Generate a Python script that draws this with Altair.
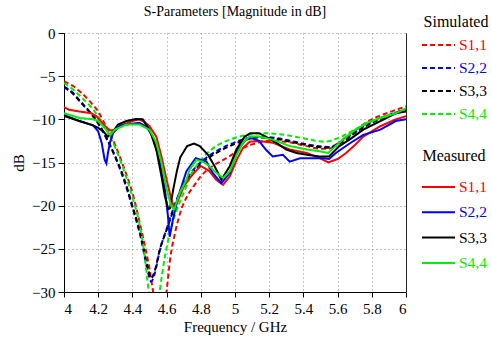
import altair as alt
import pandas as pd

# ---- S-parameter traces (frequency in GHz, magnitude in dB) ----
sim_s11_f = [4.0, 4.05, 4.1, 4.15, 4.2, 4.25, 4.3, 4.35, 4.4, 4.45, 4.5, 4.53, 4.56, 4.59, 4.6, 4.62, 4.65, 4.68,
             4.72, 4.76, 4.8, 4.87, 4.95, 5.03, 5.1, 5.2, 5.3, 5.4, 5.5, 5.55, 5.6, 5.65, 5.7, 5.75, 5.8, 5.9, 6.0]
sim_s11_db = [-5.6, -6.1, -6.9, -7.9, -9.1, -11.0, -13.0, -15.6, -18.5, -22.6, -27.3, -31.0, -33.5, -31.5, -29.9,
              -26.3, -23.1, -20.8, -18.9, -17.7, -16.6, -15.4, -14.5, -13.5, -12.9, -12.5, -12.6, -13.0, -13.4,
              -13.4, -12.8, -12.0, -11.3, -10.6, -10.0, -9.2, -8.5]

sim_s22_f = [4.0, 4.05, 4.1, 4.15, 4.2, 4.25, 4.3, 4.35, 4.4, 4.45, 4.49, 4.51, 4.53, 4.56, 4.6, 4.64, 4.68,
             4.735, 4.81, 4.89, 4.97, 5.07, 5.15, 5.25, 5.35, 5.45, 5.55, 5.62, 5.7, 5.8, 5.9, 6.0]
sim_s22_db = [-6.3, -7.0, -8.1, -9.2, -10.5, -12.3, -14.4, -17.0, -20.2, -23.8, -27.6, -28.8, -27.9, -25.2, -22.7,
              -20.3, -18.3, -16.4, -14.8, -13.7, -12.9, -12.2, -12.0, -12.2, -12.6, -13.0, -13.2, -12.6, -11.5,
              -10.3, -9.5, -8.8]

sim_s33_f = [4.0, 4.05, 4.1, 4.15, 4.2, 4.25, 4.3, 4.35, 4.4, 4.45, 4.49, 4.51, 4.53, 4.56, 4.6, 4.64, 4.68,
             4.735, 4.81, 4.89, 4.97, 5.07, 5.15, 5.25, 5.35, 5.45, 5.55, 5.62, 5.7, 5.8, 5.9, 6.0]
sim_s33_db = [-6.2, -6.9, -8.0, -9.1, -10.4, -12.2, -14.3, -16.8, -20.0, -23.5, -27.2, -28.4, -27.6, -25.1, -22.8,
              -20.5, -18.5, -16.6, -15.0, -13.9, -13.1, -12.35, -12.1, -12.3, -12.7, -13.1, -13.3, -12.7, -11.6,
              -10.4, -9.6, -8.9]

sim_s44_f = [4.0, 4.05, 4.1, 4.15, 4.2, 4.25, 4.3, 4.35, 4.4, 4.44, 4.47, 4.49, 4.51, 4.53, 4.55, 4.56, 4.59,
             4.62, 4.66, 4.7, 4.75, 4.81, 4.89, 4.97, 5.07, 5.15, 5.25, 5.35, 5.45, 5.52, 5.6, 5.7, 5.8, 5.9, 6.0]
sim_s44_db = [-5.8, -6.5, -7.4, -8.4, -9.65, -11.3, -13.3, -15.9, -19.0, -22.0, -25.5, -29.0, -32.0, -33.0,
              -31.5, -29.9, -25.9, -23.1, -20.5, -18.5, -16.2, -14.5, -13.1, -12.35, -11.8, -11.6, -11.7, -12.0,
              -12.4, -12.6, -12.2, -11.2, -10.2, -9.5, -8.9]

meas_s11_f = [4.0, 4.03, 4.09, 4.16, 4.19, 4.23, 4.27, 4.3, 4.35, 4.4, 4.44, 4.47, 4.5, 4.54, 4.57, 4.6, 4.628,
              4.647, 4.677, 4.7, 4.735, 4.77, 4.8, 4.85, 4.89, 4.93, 4.97, 5.01, 5.047, 5.086, 5.14, 5.22, 5.32,
              5.42, 5.495, 5.545, 5.6, 5.65, 5.7, 5.75, 5.85, 5.94, 6.0]
meas_s11_db = [-8.6, -8.9, -9.1, -9.3, -9.65, -10.6, -11.3, -11.2, -10.6, -10.2, -10.0, -10.3, -10.8, -12.0,
               -14.3, -17.0, -19.3, -20.4, -18.9, -17.8, -16.8, -16.0, -15.4, -16.0, -17.0, -17.6, -16.6, -14.7,
               -13.3, -12.6, -12.5, -12.7, -13.5, -13.9, -14.5, -15.0, -14.6, -13.9, -13.0, -12.0, -10.8, -10.0,
               -9.65]

meas_s22_f = [4.0, 4.09, 4.17, 4.2, 4.22, 4.238, 4.248, 4.257, 4.27, 4.287, 4.326, 4.4, 4.44, 4.48, 4.52, 4.56,
              4.59, 4.608, 4.618, 4.637, 4.667, 4.716, 4.77, 4.833, 4.87, 4.92, 4.97, 5.017, 5.067, 5.1, 5.14,
              5.18, 5.22, 5.28, 5.32, 5.38, 5.456, 5.515, 5.55, 5.59, 5.67, 5.75, 5.85, 5.94, 6.0]
meas_s22_db = [-9.5, -10.2, -10.7, -11.4, -12.7, -14.7, -15.1, -13.9, -12.6, -11.6, -10.7, -10.5, -10.4, -10.8,
               -12.0, -15.0, -18.1, -21.2, -23.6, -21.6, -19.0, -16.0, -14.5, -14.9, -16.2, -17.4, -16.2, -13.5,
               -12.3, -12.2, -12.5, -13.5, -14.3, -14.1, -14.9, -14.5, -14.5, -14.5, -14.6, -13.9, -12.8, -11.8,
               -11.2, -10.2, -10.0]

meas_s33_f = [4.0, 4.09, 4.17, 4.2, 4.23, 4.257, 4.287, 4.316, 4.365, 4.42, 4.46, 4.5, 4.54, 4.57, 4.59, 4.61,
              4.62, 4.64, 4.66, 4.68, 4.72, 4.76, 4.794, 4.842, 4.88, 4.92, 4.97, 5.008, 5.057, 5.09, 5.14, 5.18,
              5.24, 5.3, 5.36, 5.42, 5.495, 5.55, 5.61, 5.68, 5.75, 5.85, 5.94, 6.0]
meas_s33_db = [-9.6, -10.2, -10.7, -11.0, -11.4, -12.0, -11.4, -10.6, -10.2, -9.95, -10.0, -11.2, -13.5, -16.6,
               -18.9, -20.4, -20.3, -18.0, -16.0, -14.4, -13.1, -12.8, -13.1, -14.1, -15.4, -17.0, -15.4, -13.5,
               -12.0, -11.6, -11.6, -12.0, -12.7, -13.5, -13.9, -14.1, -14.3, -14.3, -13.1, -12.2, -11.2, -10.2,
               -9.3, -9.1]

meas_s44_f = [4.0, 4.09, 4.17, 4.2, 4.238, 4.27, 4.297, 4.365, 4.44, 4.5, 4.54, 4.57, 4.6, 4.628, 4.645, 4.677,
              4.716, 4.735, 4.774, 4.81, 4.85, 4.89, 4.93, 4.97, 5.01, 5.047, 5.086, 5.14, 5.22, 5.32, 5.42, 5.495,
              5.545, 5.61, 5.69, 5.77, 5.85, 5.94, 6.0]
meas_s44_db = [-9.3, -9.85, -10.0, -10.2, -11.0, -11.8, -11.2, -10.6, -10.6, -11.2, -12.7, -15.0, -18.1, -20.1,
               -20.4, -18.5, -17.0, -15.8, -14.7, -14.9, -15.4, -16.2, -16.8, -16.0, -14.1, -12.7, -12.0, -12.0,
               -12.35, -13.1, -13.5, -13.7, -13.9, -12.7, -11.4, -10.4, -9.85, -9.3, -8.7]

port_names = ["S1,1", "S2,2", "S3,3", "S4,4"]
port_colors = ["#ff0000", "#0000ff", "#000000", "#00ee00"]

sim_traces = [(sim_s11_f, sim_s11_db), (sim_s22_f, sim_s22_db), (sim_s33_f, sim_s33_db), (sim_s44_f, sim_s44_db)]
meas_traces = [(meas_s11_f, meas_s11_db), (meas_s22_f, meas_s22_db), (meas_s33_f, meas_s33_db),
               (meas_s44_f, meas_s44_db)]


def long_table(traces):
    rows = []
    for name, (fs, dbs) in zip(port_names, traces):
        for f, d in zip(fs, dbs):
            rows.append({"f": f, "dB": d, "series": name})
    return pd.DataFrame(rows)


sim_df = long_table(sim_traces)
meas_df = long_table(meas_traces)

SERIF = "Liberation Serif"
W, H = 342, 259

x_ticks = [round(4 + 0.2 * i, 1) for i in range(11)]
y_ticks = [-30, -25, -20, -15, -10, -5, 0]

axis_text = dict(labelFont=SERIF, labelFontSize=15, labelColor="black",
                 titleFont=SERIF, titleFontSize=15, titleFontWeight="normal", titleColor="black")

x_enc = alt.X(
    "f:Q",
    scale=alt.Scale(domain=[4, 6], nice=False, zero=False),
    axis=alt.Axis(values=x_ticks, format=".1~f", title="Frequency / GHz", grid=True,
                  tickSize=5, labelPadding=4, titlePadding=3, **axis_text),
)
y_scale = alt.Scale(domain=[-30, 0], nice=False, zero=False)
color_enc = alt.Color("series:N", scale=alt.Scale(domain=port_names, range=port_colors), legend=None)

simulated = alt.Chart(sim_df).mark_line(clip=True, strokeWidth=2, strokeDash=[5, 3], interpolate="monotone").encode(
    x=x_enc,
    y=alt.Y("dB:Q", scale=y_scale,
            axis=alt.Axis(values=y_ticks, format="d", title="dB", grid=True, tickSize=6, labelPadding=3,
                          titlePadding=5, **axis_text)),
    color=color_enc,
)

# second y axis on the right draws the plot frame's right edge
measured = alt.Chart(meas_df).mark_line(clip=True, strokeWidth=2).encode(
    x=x_enc,
    y=alt.Y("dB:Q", scale=y_scale,
            axis=alt.Axis(orient="right", labels=False, ticks=False, grid=False, title=None, domainColor="#222")),
    color=color_enc,
)

# ---- hand-placed legend in the right margin ----
LINE_X0, LINE_X1, TEXT_X = 358, 391, 395
sim_rows = pd.DataFrame({"name": port_names, "c": port_colors, "ly": [12 + 23 * i for i in range(4)]})
meas_rows = pd.DataFrame({"name": port_names, "c": port_colors, "ly": [154 + 25.3 * i for i in range(4)]})
headers = pd.DataFrame({"t": ["Simulated", "Measured"], "ly": [-11, 123], "lx": [392, 390]})


def legend_rows(rows, dash):
    props = {"strokeWidth": 2}
    if dash:
        props["strokeDash"] = dash
    rule = alt.Chart(rows).mark_rule(**props).encode(
        x=alt.value(LINE_X0), x2=alt.value(LINE_X1),
        y=alt.Y("ly:Q", scale=None, axis=None),
        color=alt.Color("c:N", scale=None, legend=None),
    )
    text = alt.Chart(rows).mark_text(align="left", baseline="middle", font=SERIF, fontSize=15.5).encode(
        x=alt.value(TEXT_X),
        y=alt.Y("ly:Q", scale=None, axis=None),
        text="name:N",
        color=alt.Color("c:N", scale=None, legend=None),
    )
    return [rule, text]


header_text = alt.Chart(headers).mark_text(align="center", baseline="middle", font=SERIF, fontSize=16,
                                           color="black").encode(
    x=alt.X("lx:Q", scale=None, axis=None),
    y=alt.Y("ly:Q", scale=None, axis=None),
    text="t:N",
)

chart = alt.layer(
    simulated, measured, *legend_rows(sim_rows, [5, 3]), *legend_rows(meas_rows, None), header_text
).resolve_scale(
    y="independent", x="shared", color="independent"
).properties(
    width=W, height=H,
    background="white",
    autosize=alt.AutoSizeParams(type="none"),
    padding={"left": 64, "top": 33, "right": 86, "bottom": 53},
    title=alt.TitleParams("S-Parameters [Magnitude in dB]", font=SERIF, fontSize=14, fontWeight="normal",
                          color="black", frame="group", anchor="middle", offset=12, dy=17),
).configure_view(
    stroke=None
).configure_axis(
    labelFont=SERIF, labelFontSize=15, labelColor="black",
    titleFont=SERIF, titleFontSize=15, titleFontWeight="normal", titleColor="black",
    domainColor="black", domainWidth=1, tickColor="black", tickWidth=1,
    gridColor="#8a8a8a", gridDash=[1, 3], gridWidth=1,
)

chart.save("out.html", embed_options={"renderer": "svg", "actions": False})
